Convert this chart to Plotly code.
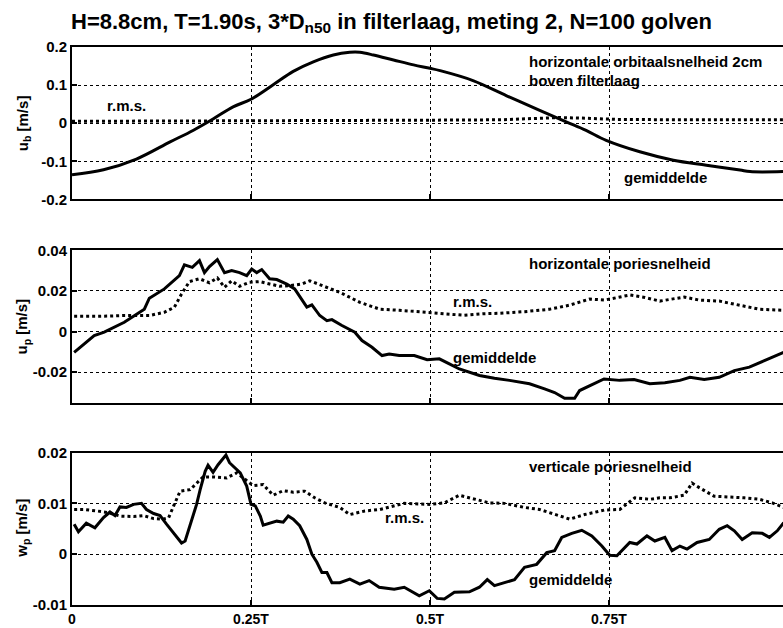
import plotly.graph_objects as go

# ---------------- data (time as fraction of wave period T) ----------------
t_ub = [0.0, 0.044, 0.090, 0.137, 0.169, 0.197, 0.225, 0.250, 0.281, 0.309,
        0.337, 0.365, 0.388, 0.402, 0.421, 0.449, 0.477, 0.500, 0.514, 0.560,
        0.607, 0.654, 0.691, 0.718, 0.746, 0.793, 0.840, 0.886, 0.933, 0.947, 0.993]
ub_mean = [-0.135, -0.122, -0.094, -0.049, -0.019, 0.011, 0.043, 0.063, 0.101, 0.136,
           0.161, 0.179, 0.186, 0.186, 0.179, 0.166, 0.153, 0.144, 0.138, 0.112,
           0.072, 0.033, 0.003, -0.019, -0.045, -0.075, -0.097, -0.110, -0.123, -0.127, -0.127]
t_ub_rms = [0.0, 0.3, 0.5, 0.6, 0.65, 0.68, 0.72, 0.76, 0.85, 0.993]
ub_rms = [0.005, 0.006, 0.008, 0.009, 0.012, 0.015, 0.013, 0.010, 0.009, 0.009]

t_up = [0.003, 0.031, 0.045, 0.073, 0.101, 0.108, 0.129, 0.150, 0.157, 0.168,
        0.178, 0.185, 0.192, 0.203, 0.213, 0.223, 0.234, 0.244, 0.251, 0.258,
        0.265, 0.276, 0.286, 0.300, 0.311, 0.321, 0.328, 0.335, 0.346, 0.356,
        0.363, 0.377, 0.395, 0.405, 0.419, 0.433, 0.443, 0.457, 0.478, 0.496,
        0.513, 0.527, 0.541, 0.569, 0.590, 0.611, 0.639, 0.660, 0.674, 0.688,
        0.702, 0.709, 0.723, 0.743, 0.765, 0.785, 0.807, 0.828, 0.849, 0.863,
        0.883, 0.904, 0.925, 0.946, 0.967, 0.994]
up_mean = [-0.0102, -0.002, -0.0003, 0.0046, 0.011, 0.0164, 0.021, 0.0275, 0.0328, 0.0316,
           0.0349, 0.029, 0.032, 0.0354, 0.029, 0.030, 0.029, 0.0275, 0.0308, 0.029,
           0.0305, 0.026, 0.0256, 0.0234, 0.021, 0.016, 0.012, 0.0131, 0.0079, 0.0054,
           0.0059, 0.003, -0.0003, -0.0044, -0.0077, -0.0118, -0.011, -0.0118, -0.0118, -0.0138,
           -0.0134, -0.0159, -0.0184, -0.0216, -0.023, -0.024, -0.0257, -0.0282, -0.030, -0.0328,
           -0.0328, -0.029, -0.0266, -0.0233, -0.024, -0.0236, -0.0257, -0.0252, -0.024, -0.0225,
           -0.0236, -0.0225, -0.0192, -0.0175, -0.0143, -0.0102]
t_up_rms = [0.003, 0.038, 0.073, 0.108, 0.129, 0.143, 0.153, 0.164, 0.178, 0.192,
            0.203, 0.213, 0.223, 0.234, 0.248, 0.262, 0.276, 0.290, 0.304, 0.321,
            0.332, 0.374, 0.402, 0.430, 0.457, 0.499, 0.527, 0.548, 0.576, 0.597,
            0.632, 0.667, 0.695, 0.723, 0.744, 0.765, 0.779, 0.800, 0.821, 0.855,
            0.876, 0.904, 0.932, 0.960, 0.994]
up_rms = [0.0075, 0.0075, 0.0079, 0.0079, 0.0095, 0.012, 0.0185, 0.0246, 0.026, 0.024,
          0.0264, 0.0218, 0.025, 0.0223, 0.0243, 0.0246, 0.0234, 0.0223, 0.0226, 0.0234,
          0.025, 0.0193, 0.0144, 0.011, 0.0105, 0.0095, 0.0085, 0.008, 0.0088, 0.009,
          0.0098, 0.011, 0.013, 0.016, 0.0155, 0.017, 0.018, 0.0168, 0.015, 0.017,
          0.0155, 0.015, 0.013, 0.011, 0.0105]

t_wp = [0.003, 0.009, 0.020, 0.032, 0.044, 0.053, 0.060, 0.067, 0.076, 0.086,
        0.097, 0.104, 0.114, 0.123, 0.132, 0.142, 0.153, 0.158, 0.165, 0.169,
        0.174, 0.179, 0.186, 0.190, 0.197, 0.204, 0.215, 0.220, 0.227, 0.235,
        0.244, 0.250, 0.256, 0.263, 0.267, 0.277, 0.286, 0.295, 0.302, 0.309,
        0.318, 0.328, 0.335, 0.342,
        0.349, 0.356, 0.363, 0.374, 0.388, 0.402, 0.415, 0.429, 0.450, 0.464,
        0.485, 0.499, 0.510, 0.520, 0.534, 0.555, 0.569, 0.580, 0.590, 0.604,
        0.618, 0.632, 0.649, 0.663, 0.674, 0.684, 0.698, 0.712, 0.726, 0.740,
        0.751, 0.761, 0.768, 0.779, 0.789, 0.803, 0.814, 0.828, 0.838, 0.849,
        0.859, 0.873, 0.890, 0.904, 0.915, 0.925, 0.936, 0.950, 0.964, 0.974,
        0.985, 0.994]
wp_mean = [0.0059, 0.0044, 0.0061, 0.0052, 0.0072, 0.0083, 0.0076, 0.0093, 0.0092, 0.0098,
           0.010, 0.0088, 0.008, 0.0076, 0.0059, 0.0042, 0.0022, 0.0026, 0.0056, 0.0075,
           0.0098, 0.0127, 0.0163, 0.0175, 0.0161, 0.0176, 0.0195, 0.018, 0.017, 0.016,
           0.0134, 0.0098, 0.0095, 0.0075, 0.0057, 0.0062, 0.0065, 0.0063, 0.0075, 0.0069,
           0.0056, 0.0029, 0.0, -0.0016,
           -0.0036, -0.0036, -0.0056, -0.0056, -0.0049, -0.0059, -0.0052, -0.0065, -0.0069, -0.0065,
           -0.0082, -0.0072, -0.0087, -0.0088, -0.0075, -0.0074, -0.0065, -0.005, -0.0062, -0.0056,
           -0.005, -0.0026, -0.002, 0.0003, 0.0007, 0.0033, 0.0041, 0.0047, 0.0036, 0.0016,
           -0.0002, -0.0003, 0.0007, 0.0023, 0.002, 0.0036, 0.0026, 0.0033, 0.0007, 0.0016,
           0.001, 0.0023, 0.0029, 0.0049, 0.0056, 0.0046, 0.0029, 0.0042, 0.0041, 0.0033,
           0.0046, 0.0062]
t_wp_rms = [0.003, 0.017, 0.035, 0.050, 0.067, 0.086, 0.100, 0.114, 0.127, 0.135,
            0.142, 0.151, 0.165, 0.174, 0.183, 0.197, 0.216, 0.230, 0.244, 0.253,
            0.267, 0.281, 0.295, 0.309,
            0.325, 0.339, 0.353, 0.374, 0.388, 0.409, 0.430, 0.464, 0.499,
            0.520, 0.541, 0.562, 0.583, 0.604, 0.632, 0.653, 0.674, 0.695, 0.716,
            0.730, 0.744, 0.765, 0.786, 0.807, 0.821, 0.835, 0.855, 0.866, 0.876,
            0.897, 0.918, 0.939, 0.960, 0.978, 0.994]
wp_rms = [0.0088, 0.0088, 0.0085, 0.0082, 0.0075, 0.0074, 0.0076, 0.007, 0.0069, 0.0072,
          0.0095, 0.0124, 0.0127, 0.014, 0.0152, 0.0152, 0.015, 0.016, 0.0144, 0.0135,
          0.0137, 0.0116, 0.0125, 0.0122,
          0.0124, 0.0111, 0.0101, 0.0092, 0.0078, 0.0085, 0.0088, 0.010, 0.0098,
          0.0101, 0.0116, 0.0108, 0.0101, 0.010, 0.0092, 0.0088, 0.0078, 0.0069, 0.0078,
          0.0082, 0.0087, 0.0088, 0.0111, 0.0108, 0.0111, 0.0111, 0.0116, 0.014, 0.0131,
          0.0114, 0.0113, 0.0111, 0.0108, 0.0101, 0.0092]

x_tickvals = [0, 0.25, 0.5, 0.75]
x_ticktext = ["0", "0.25T", "0.5T", "0.75T"]

y1_tickvals = [-0.2, -0.1, 0, 0.1, 0.2]
y1_ticktext = ["-0.2", "-0.1", "0", "0.1", "0.2"]
y2_tickvals = [-0.02, 0, 0.02, 0.04]
y2_ticktext = ["-0.02", "0", "0.02", "0.04"]
y3_tickvals = [-0.01, 0, 0.01, 0.02]
y3_ticktext = ["-0.01", "0", "0.01", "0.02"]

# ---------------- figure ----------------
FONT = "Liberation Sans, Arial, sans-serif"
mean_line = dict(color="black", width=3)
rms_line = dict(color="black", width=3, dash="dot")

# panel domains (paper fractions of the plotting height)
DOM1 = [0.7268, 1.0]
DOM2 = [0.3625, 0.6357]
DOM3 = [0.0, 0.2732]

fig = go.Figure()
fig.add_trace(go.Scatter(x=t_ub, y=ub_mean, mode="lines", line=dict(mean_line, shape="spline"),
                         xaxis="x", yaxis="y"))
fig.add_trace(go.Scatter(x=t_ub_rms, y=ub_rms, mode="lines", line=rms_line, xaxis="x", yaxis="y"))
fig.add_trace(go.Scatter(x=t_up, y=up_mean, mode="lines", line=mean_line, xaxis="x2", yaxis="y2"))
fig.add_trace(go.Scatter(x=t_up_rms, y=up_rms, mode="lines", line=rms_line, xaxis="x2", yaxis="y2"))
fig.add_trace(go.Scatter(x=t_wp, y=wp_mean, mode="lines", line=mean_line, xaxis="x3", yaxis="y3"))
fig.add_trace(go.Scatter(x=t_wp_rms, y=wp_rms, mode="lines", line=rms_line, xaxis="x3", yaxis="y3"))

tick_font = dict(family=FONT, size=15, color="black", weight="bold")
xtick_font = dict(family=FONT, size=14, color="black", weight="bold")


def xaxis_cfg(anchor, labels):
    return dict(anchor=anchor, domain=[0, 1], range=[0, 0.993],
                tickvals=x_tickvals, ticktext=x_ticktext, showticklabels=labels,
                ticks="inside", ticklen=5, tickwidth=2, tickcolor="black",
                ticklabelstandoff=0,
                showgrid=True, gridcolor="black", gridwidth=1, griddash="dot",
                showline=True, linecolor="black", linewidth=2, mirror=True,
                zeroline=False, tickfont=xtick_font, automargin=False)


def yaxis_cfg(anchor, dom, rng, vals, text):
    return dict(anchor=anchor, domain=dom, range=rng, tickvals=vals, ticktext=text,
                ticks="inside", ticklen=5, tickwidth=1.5, tickcolor="black",
                showgrid=True, gridcolor="black", gridwidth=1, griddash="dot",
                showline=True, linecolor="black", linewidth=2, mirror=False,
                zeroline=False, tickfont=tick_font, automargin=False)


fig.update_layout(
    width=783, height=628,
    margin=dict(l=72, r=0, t=47, b=23),
    paper_bgcolor="white", plot_bgcolor="white",
    showlegend=False,
    font=dict(family=FONT, size=15, color="black", weight="bold"),
    xaxis=xaxis_cfg("y", False),
    xaxis2=xaxis_cfg("y2", False),
    xaxis3=xaxis_cfg("y3", True),
    yaxis=yaxis_cfg("x", DOM1, [-0.2, 0.2], y1_tickvals, y1_ticktext),
    yaxis2=yaxis_cfg("x2", DOM2, [-0.035, 0.04], y2_tickvals, y2_ticktext),
    yaxis3=yaxis_cfg("x3", DOM3, [-0.01, 0.02], y3_tickvals, y3_ticktext),
    title=dict(text="H=8.8cm, T=1.90s, 3*D<sub>n50</sub> in filterlaag, meting 2, N=100 golven",
               x=0.5, xref="container", xanchor="center",
               y=1 - 21 / 628, yref="container", yanchor="middle",
               font=dict(family=FONT, size=22, color="black", weight="bold")),
)

ann_font = dict(family=FONT, size=15, color="black", weight="bold")
notes = [
    ("x", "y", 0.636, 0.162, "horizontale orbitaalsnelheid 2cm"),
    ("x", "y", 0.636, 0.112, "boven filterlaag"),
    ("x", "y", 0.046, 0.046, "r.m.s."),
    ("x", "y", 0.768, -0.142, "gemiddelde"),
    ("x2", "y2", 0.636, 0.0333, "horizontale poriesnelheid"),
    ("x2", "y2", 0.530, 0.0147, "r.m.s."),
    ("x2", "y2", 0.530, -0.0126, "gemiddelde"),
    ("x3", "y3", 0.636, 0.0173, "verticale poriesnelheid"),
    ("x3", "y3", 0.434, 0.0073, "r.m.s."),
    ("x3", "y3", 0.636, -0.0049, "gemiddelde"),
]
for xr, yr, xv, yv, txt in notes:
    fig.add_annotation(x=xv, y=yv, xref=xr, yref=yr, text=txt, showarrow=False,
                       xanchor="left", yanchor="middle", font=ann_font)

# rotated y-axis titles
ylabels = [("u<sub>b</sub> [m/s]", sum(DOM1) / 2),
           ("u<sub>p</sub> [m/s]", sum(DOM2) / 2),
           ("w<sub>p</sub> [m/s]", sum(DOM3) / 2)]
for txt, yc in ylabels:
    fig.add_annotation(x=-49 / 711, y=yc, xref="paper", yref="paper", text=txt,
                       textangle=-90, showarrow=False, xanchor="center", yanchor="middle",
                       font=ann_font)

fig.write_html("out.html")
